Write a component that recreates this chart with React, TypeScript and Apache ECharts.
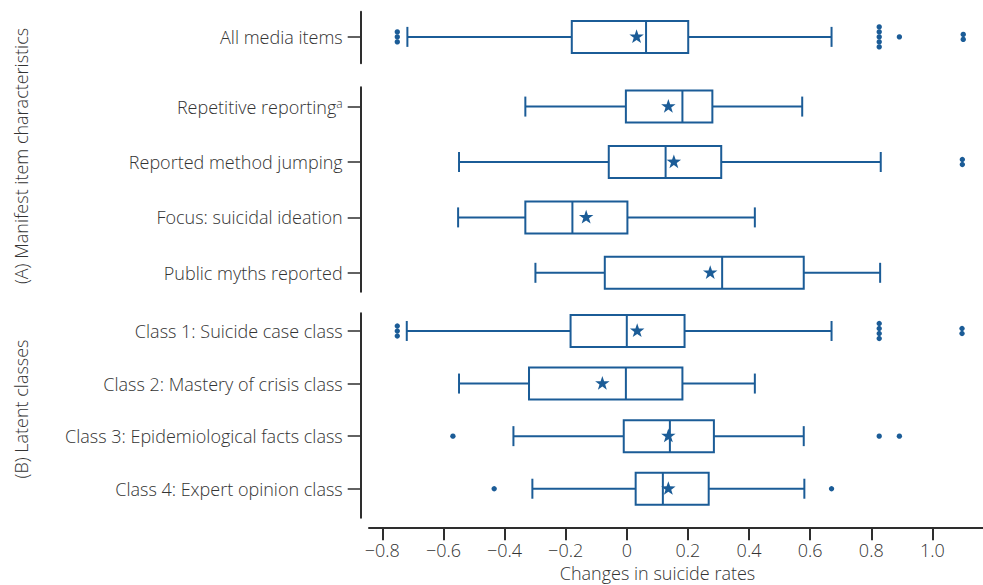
import React, { useEffect, useRef } from 'react';
import * as echarts from 'echarts';

// ---- data ----
const rowNames = [
  'All media items',
  'Repetitive reporting',
  'Reported method jumping',
  'Focus: suicidal ideation',
  'Public myths reported',
  'Class 1: Suicide case class',
  'Class 2: Mastery of crisis class',
  'Class 3: Epidemiological facts class',
  'Class 4: Expert opinion class',
];
const rowGroup = [0, 1, 1, 1, 1, 2, 2, 2, 2];
const whiskerLow = [-0.718, -0.332, -0.549, -0.552, -0.299, -0.72, -0.549, -0.371, -0.309];
const quartile1 = [-0.18, -0.003, -0.059, -0.332, -0.072, -0.184, -0.32, -0.01, 0.029];
const medians = [0.063, 0.182, 0.127, -0.178, 0.312, 0.0, -0.003, 0.141, 0.118];
const quartile3 = [0.201, 0.28, 0.309, 0.002, 0.579, 0.189, 0.182, 0.285, 0.268];
const whiskerHigh = [0.67, 0.574, 0.831, 0.419, 0.829, 0.67, 0.419, 0.579, 0.581];
const means = [0.032, 0.136, 0.154, -0.133, 0.273, 0.034, -0.08, 0.136, 0.136];
const outliers = [
  [-0.751, -0.751, -0.751, 0.826, 0.826, 0.826, 0.826, 0.826, 0.892, 1.101, 1.101],
  [],
  [1.098, 1.098],
  [],
  [],
  [-0.751, -0.751, -0.751, 0.826, 0.826, 0.826, 0.826, 1.097, 1.097],
  [],
  [-0.569, 0.826, 0.892],
  [-0.434, 0.67],
];
const xTicks = [-0.8, -0.6, -0.4, -0.2, 0, 0.2, 0.4, 0.6, 0.8, 1.0];
const groupTitles = ['(A) Manifest item characteristics', '(B) Latent classes'];
const xAxisTitle = 'Changes in suicide rates';
const superscriptRow = 1;
const superscriptMark = 'a';

// ---- style / layout ----
const BLUE = '#1b5c97';
const AXIS = '#2e2e2e';
const TEXT = '#333333';
const FONT = '"Open Sans", "Noto Sans", sans-serif';
const FS = 18;

const gridLayouts = [
  { top: 11.7, height: 51.6, min: -0.488, max: 0.512 },
  { top: 87.3, height: 204.4, min: -0.348, max: 3.341 },
  { top: 313.3, height: 204.4, min: -0.336, max: 3.551 },
];
const X_MIN = -0.8436;
const X_MAX = 1.1656;

function starPoints(cx: number, cy: number, ro: number, ri: number) {
  const pts: number[][] = [];
  for (let i = 0; i < 10; i++) {
    const r = i % 2 === 0 ? ro : ri;
    const a = -Math.PI / 2 + (i * Math.PI) / 5;
    pts.push([cx + r * Math.cos(a), cy + r * Math.sin(a)]);
  }
  return pts;
}

function fmtTick(v: number) {
  if (Math.abs(v) < 1e-9) return '0';
  const s = Math.abs(v).toFixed(1);
  return v < 0 ? '\u2212' + s : s;
}

export default function App() {
  const ref = useRef<HTMLDivElement>(null);
  useEffect(() => {
    if (!ref.current) return;
    const chart = echarts.init(ref.current, undefined, { renderer: 'svg' });

    const grids: any[] = [];
    const xAxes: any[] = [];
    const yAxes: any[] = [];
    const series: any[] = [];

    gridLayouts.forEach((g, gi) => {
      const idx = rowGroup.map((grp, i) => (grp === gi ? i : -1)).filter((i) => i >= 0);
      grids.push({ left: 369, right: 0, top: g.top, height: g.height, containLabel: false });
      const isBottom = gi === gridLayouts.length - 1;
      xAxes.push({
        type: 'value',
        gridIndex: gi,
        min: X_MIN,
        max: X_MAX,
        show: isBottom,
        position: 'bottom',
        offset: 9.6,
        axisLine: { show: true, onZero: false, lineStyle: { color: AXIS, width: 2 } },
        axisTick: { show: true, customValues: xTicks, length: 13, lineStyle: { color: AXIS, width: 2 } },
        axisLabel: {
          customValues: xTicks,
          formatter: (v: number) => fmtTick(v),
          color: TEXT,
          fontSize: FS,
          lineHeight: 18,
          fontFamily: FONT,
          fontWeight: 300,
          margin: 14,
        },
        splitLine: { show: false },
      });
      const ticks = idx.map((_, k) => k);
      yAxes.push({
        type: 'value',
        gridIndex: gi,
        inverse: true,
        min: g.min,
        max: g.max,
        offset: 8.3,
        axisLine: { show: true, onZero: false, lineStyle: { color: AXIS, width: 2 } },
        axisTick: { show: true, customValues: ticks, length: 13, lineStyle: { color: AXIS, width: 1.5 } },
        axisLabel: {
          customValues: ticks,
          formatter: (v: number) => {
            const ri = idx[Math.round(v)];
            if (ri === undefined) return '';
            return ri === superscriptRow ? rowNames[ri] + '{sup|' + superscriptMark + '}' : rowNames[ri];
          },
          color: TEXT,
          fontSize: FS,
          fontFamily: FONT,
          fontWeight: 300,
          margin: 18,
          rich: { sup: { fontSize: 12, verticalAlign: 'top', color: TEXT, fontFamily: FONT, fontWeight: 300 } },
        },
        splitLine: { show: false },
      });

      series.push({
        type: 'custom',
        xAxisIndex: gi,
        yAxisIndex: gi,
        clip: false,
        encode: { x: [1, 2, 3, 4, 5, 6], y: 0 },
        data: idx.map((ri, k) => [k, whiskerLow[ri], quartile1[ri], medians[ri], quartile3[ri], whiskerHigh[ri], means[ri]]),
        renderItem: (params: any, api: any) => {
          const row = api.value(0);
          const px = (v: number) => api.coord([v, row]);
          const y = px(api.value(1))[1];
          const xl = px(api.value(1))[0];
          const xq1 = px(api.value(2))[0];
          const xmed = px(api.value(3))[0];
          const xq3 = px(api.value(4))[0];
          const xh = px(api.value(5))[0];
          const xmean = px(api.value(6))[0];
          const bh = 16;
          const ch = 10;
          const ls = { stroke: BLUE, lineWidth: 2, fill: null };
          return {
            type: 'group',
            children: [
              { type: 'line', shape: { x1: xl, y1: y, x2: xq1, y2: y }, style: ls },
              { type: 'line', shape: { x1: xq3, y1: y, x2: xh, y2: y }, style: ls },
              { type: 'line', shape: { x1: xl, y1: y - ch, x2: xl, y2: y + ch }, style: ls },
              { type: 'line', shape: { x1: xh, y1: y - ch, x2: xh, y2: y + ch }, style: ls },
              { type: 'rect', shape: { x: xq1, y: y - bh, width: xq3 - xq1, height: 2 * bh }, style: { stroke: BLUE, lineWidth: 2, fill: '#ffffff' } },
              { type: 'line', shape: { x1: xmed, y1: y - bh, x2: xmed, y2: y + bh }, style: ls },
              { type: 'polygon', shape: { points: starPoints(xmean, y, 7.6, 3.0) }, style: { fill: BLUE, stroke: null } },
            ],
          };
        },
        z: 3,
      });

      const outData: number[][] = [];
      idx.forEach((ri, k) => {
        const vals = outliers[ri];
        const counts: Record<string, number> = {};
        vals.forEach((v) => { counts[String(v)] = (counts[String(v)] || 0) + 1; });
        const seen: Record<string, number> = {};
        vals.forEach((v) => {
          const key = String(v);
          const j = seen[key] || 0;
          seen[key] = j + 1;
          outData.push([v, k, j, counts[key]]);
        });
      });
      series.push({
        type: 'custom',
        xAxisIndex: gi,
        yAxisIndex: gi,
        clip: false,
        encode: { x: 0, y: 1 },
        data: outData,
        renderItem: (params: any, api: any) => {
          const p = api.coord([api.value(0), api.value(1)]);
          const j = api.value(2);
          const n = api.value(3);
          const dy = (j - (n - 1) / 2) * 5;
          return { type: 'circle', shape: { cx: p[0], cy: p[1] + dy, r: 2.7 }, style: { fill: BLUE } };
        },
        z: 4,
      });
    });

    const titleStyle = { fontSize: FS, fontFamily: FONT, fontWeight: 300, fill: TEXT, align: 'center', verticalAlign: 'middle' };
    chart.setOption({
      animation: false,
      backgroundColor: '#ffffff',
      grid: grids,
      xAxis: xAxes,
      yAxis: yAxes,
      series,
      graphic: [
        { type: 'text', x: 21, y: 156, rotation: Math.PI / 2, style: { ...titleStyle, text: groupTitles[0] } },
        { type: 'text', x: 21, y: 409, rotation: Math.PI / 2, style: { ...titleStyle, text: groupTitles[1] } },
        { type: 'text', x: 657.5, y: 573, style: { ...titleStyle, lineHeight: 18, text: xAxisTitle } },
      ],
    });
    return () => chart.dispose();
  }, []);
  return <div ref={ref} style={{ position: 'absolute', left: 0, top: 0, width: 983, height: 585 }} />;
}
